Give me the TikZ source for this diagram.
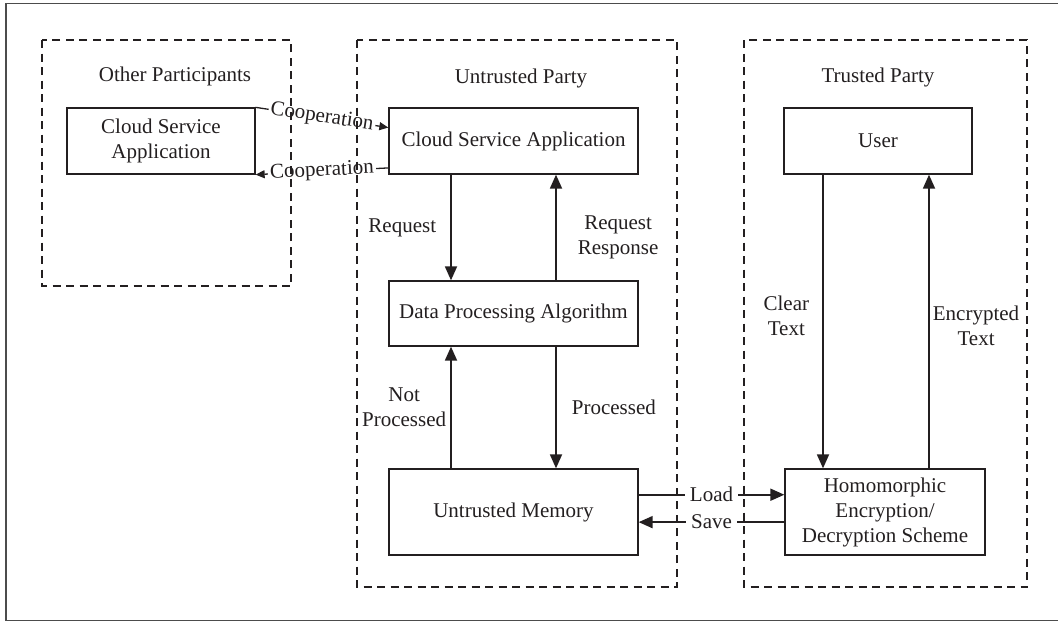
\documentclass[tikz,border=0pt]{standalone}
\usepackage{fontspec}
\setmainfont{Liberation Serif}
\usetikzlibrary{arrows.meta,calc}
\definecolor{ink}{HTML}{231F20}
\begin{document}
\begin{tikzpicture}[x=1pt,y=-1pt,
  every node/.style={font=\fontsize{21pt}{25pt}\selectfont, text=ink},
  box/.style={draw=ink, line width=1.3pt, inner sep=0pt, align=center},
  title/.style={inner sep=0pt},
  lbl/.style={inner sep=0pt, align=center},
  flow/.style={draw=ink, line width=1.8pt, -{Triangle[length=14pt,width=12pt]}},
  coop/.style={draw=ink, line width=1.3pt, -{Triangle[length=9pt,width=8pt]}},
  tag/.style={fill=white, inner xsep=5pt, inner ysep=1pt},
  group/.style={draw=ink, line width=1.1pt, dash pattern=on 8pt off 5.5pt},
  frame/.style={draw=black!70, line width=1.5pt}]

\useasboundingbox (0,0) rectangle (1058,622);

% outer frame (open on the right)
\draw[frame] (1058,3.5) -- (6,3.5) -- (6,620.5) -- (1058,620.5);

% group titles
\node[title] (tOther) at (175,76) {Other Participants};
\node[title] (tUntr)  at (521,78) {Untrusted Party};
\node[title] (tTrust) at (878,77) {Trusted Party};

% components
\node[box, minimum width=188pt, minimum height=66pt] (csaL) at (161,141) {Cloud Service\\Application};
\node[box, minimum width=249pt, minimum height=66pt] (csaM) at (513.5,141) {Cloud Service Application};
\node[box, minimum width=249pt, minimum height=65pt] (dpa)  at (513.5,313.5) {Data Processing Algorithm};
\node[box, minimum width=249pt, minimum height=86pt] (mem)  at (513.5,512) {Untrusted Memory};
\node[box, minimum width=188pt, minimum height=66pt] (user) at (878,141) {User};
\node[box, minimum width=200pt, minimum height=86pt] (hom)  at (885,512) {Homomorphic\\Encryption/\\Decryption Scheme};

% columns of the vertical flows
\coordinate (colA) at (451,0);
\coordinate (colB) at (556,0);
\coordinate (colU) at (823,0);
\coordinate (colE) at (929,0);

% vertical flows
\draw[flow] (colA |- csaM.south) -- node[lbl, midway, left=14pt] (lReq) {Request} (colA |- dpa.north);
\draw[flow] (colB |- dpa.north) -- node[lbl, midway, right=21pt, yshift=-9.5pt] (lResp) {Request\\Response} (colB |- csaM.south);
\draw[flow] (colA |- mem.north) -- node[lbl, midway, left=4pt] (lNot) {Not\\Processed} (colA |- dpa.south);
\draw[flow] (colB |- dpa.south) -- node[lbl, midway, right=15pt] (lProc) {Processed} (colB |- mem.north);
\draw[flow] (colU |- user.south) -- node[lbl, midway, left=13pt, yshift=6pt] (lClr) {Clear\\Text} (colU |- hom.north);
\draw[flow] (colE |- hom.north) -- node[lbl, midway, right=3pt, yshift=-4.5pt] (lEnc) {Encrypted\\Text} (colE |- user.south);

% cooperation between the two applications
\coordinate (coopIn)  at ($(csaM.north west)!0.3!(csaM.south west)$);
\coordinate (coopOut) at ($(csaM.north west)!0.9!(csaM.south west)$);
\draw[coop] (csaL.north east) -- node[tag, sloped, inner xsep=2pt, midway] (lCoop1) {Cooperation} (coopIn);
\draw[coop] (coopOut) -- node[tag, sloped, inner xsep=2pt, midway] (lCoop2) {Cooperation} (csaL.south east);

% load / save between memory and the encryption scheme
\coordinate (ldA) at ($(mem.north east)!0.302!(mem.south east)$);
\coordinate (svA) at ($(mem.north east)!0.616!(mem.south east)$);
\draw[flow] (ldA) -- node[tag, midway] (lLoad) {Load} (ldA -| hom.west);
\draw[flow] (svA -| hom.west) -- node[tag, midway] (lSave) {Save} (svA);

% party boundaries
\draw[group] (42,40) rectangle (291,286);
\draw[group] (357,40) rectangle (677,587);
\draw[group] (744,40) rectangle (1027,587);

\end{tikzpicture}
\end{document}
